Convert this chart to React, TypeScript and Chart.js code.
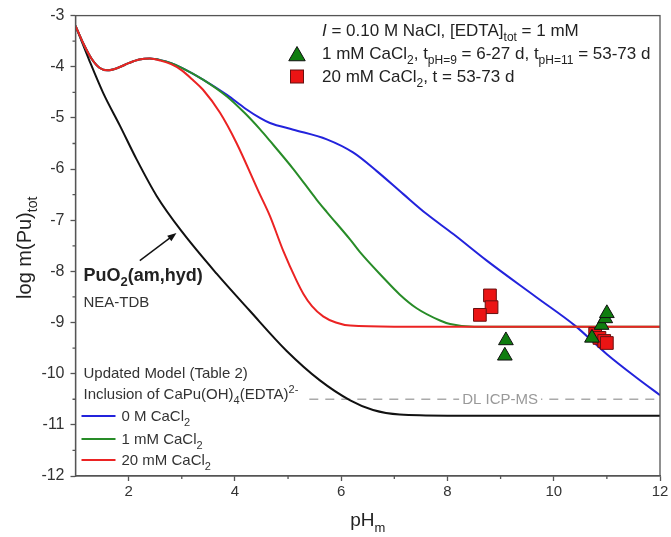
import React, { useEffect, useRef } from 'react';
import { Chart, registerables } from 'chart.js';
Chart.register(...registerables);

// PuO2(am,hyd) solubility, NEA-TDB
const ntdbPH = [1.0, 1.25, 1.52, 1.84, 2.15, 2.53, 3.0, 3.66, 4.28, 4.97, 5.6, 6.17, 6.6, 7.1, 8.0, 12.0];
const ntdbLog = [-3.2, -3.85, -4.51, -5.16, -5.81, -6.53, -7.22, -8.05, -8.77, -9.55, -10.13, -10.52, -10.71, -10.8, -10.82, -10.82];

// Updated model, 0 M CaCl2
const blueRaw: [number, number][] = [
  [1.0, -3.2], [1.15, -3.55], [1.3, -3.84], [1.45, -4.02], [1.6, -4.07], [1.8, -4.02], [2.0, -3.93], [2.2, -3.86],
  [2.4, -3.84], [2.6, -3.87], [2.8, -3.93], [3.0, -4.02], [3.4, -4.25], [3.85, -4.55], [4.2, -4.82], [4.47, -5.0],
  [4.66, -5.1], [5.1, -5.23], [5.73, -5.42], [6.23, -5.68], [6.67, -6.04], [7.17, -6.49], [7.61, -6.88], [8.11, -7.27],
  [8.74, -7.79], [9.68, -8.51], [10.4, -9.06], [11.0, -9.62], [11.56, -10.08], [12.0, -10.42],
];
// Updated model, 1 mM CaCl2
const greenRaw: [number, number][] = [
  [1.0, -3.2], [1.15, -3.55], [1.3, -3.84], [1.45, -4.02], [1.6, -4.07], [1.8, -4.02], [2.0, -3.93], [2.2, -3.86],
  [2.4, -3.84], [2.6, -3.87], [2.8, -3.93], [3.0, -4.02], [3.4, -4.25], [3.85, -4.58], [4.2, -4.92], [4.47, -5.22],
  [4.66, -5.45], [5.1, -6.0], [5.54, -6.6], [5.73, -6.84], [6.17, -7.38], [6.35, -7.62], [6.79, -8.12], [7.1, -8.45],
  [7.42, -8.72], [7.86, -8.96], [8.05, -9.03], [8.5, -9.08], [12.0, -9.08],
];
// Updated model, 20 mM CaCl2
const redRaw: [number, number][] = [
  [1.0, -3.2], [1.15, -3.55], [1.3, -3.84], [1.45, -4.02], [1.6, -4.07], [1.8, -4.02], [2.0, -3.93], [2.2, -3.86],
  [2.4, -3.84], [2.6, -3.88], [2.8, -3.95], [3.0, -4.07], [3.2, -4.25], [3.4, -4.45], [3.72, -4.9], [4.03, -5.49],
  [4.45, -6.45], [4.66, -6.92], [4.91, -7.6], [5.16, -8.18], [5.29, -8.44], [5.45, -8.68], [5.66, -8.88], [5.9, -9.0],
  [6.17, -9.06], [7.0, -9.08], [12.0, -9.08],
];

// Experimental data
const triPH = [9.1, 9.08, 10.72, 10.9, 10.97, 11.0];
const triLog = [-9.35, -9.65, -9.3, -9.05, -8.92, -8.82];
const sqPH = [8.8, 8.83, 8.61, 10.78, 10.86, 10.95, 11.0];
const sqLog = [-8.47, -8.7, -8.85, -9.22, -9.3, -9.36, -9.4];

// ICP-MS detection limit
const dlPH = [5.4, 12.0];
const dlLog = [-10.5, -10.5];

const xTicksMajor = [2, 4, 6, 8, 10, 12];

const FONT = '"Liberation Sans", Arial, Helvetica, sans-serif';

type Seg = { t: string; sub?: boolean; sup?: boolean; b?: boolean; i?: boolean };

function rich(ctx: CanvasRenderingContext2D, x: number, y: number, segs: Seg[], size: number, color: string, align: 'left' | 'center' = 'left') {
  const fontFor = (s: Seg) =>
    `${s.i ? 'italic ' : ''}${s.b ? 'bold ' : ''}${s.sub || s.sup ? Math.round(size * 0.7) : size}px ${FONT}`;
  let total = 0;
  for (const s of segs) {
    ctx.font = fontFor(s);
    total += ctx.measureText(s.t).width;
  }
  let cx = align === 'center' ? x - total / 2 : x;
  ctx.fillStyle = color;
  ctx.textBaseline = 'alphabetic';
  ctx.textAlign = 'left';
  for (const s of segs) {
    ctx.font = fontFor(s);
    const dy = s.sub ? size * 0.3 : s.sup ? -size * 0.4 : 0;
    ctx.fillText(s.t, cx, y + dy);
    cx += ctx.measureText(s.t).width;
  }
  return total;
}

const pts = (xs: number[], ys: number[]) => xs.map((x, i) => ({ x, y: ys[i] }));
const pairs = (arr: [number, number][]) => arr.map(([x, y]) => ({ x, y }));

const BLUE = 'rgb(35,35,220)';
const GREEN = 'rgb(40,140,40)';
const RED = 'rgb(235,35,35)';

function drawTri(ctx: CanvasRenderingContext2D, x: number, y: number, r: number) {
  ctx.beginPath();
  ctx.moveTo(x, y - r);
  ctx.lineTo(x + r * 0.866, y + r * 0.5);
  ctx.lineTo(x - r * 0.866, y + r * 0.5);
  ctx.closePath();
  ctx.fillStyle = 'rgb(15,125,15)';
  ctx.fill();
  ctx.strokeStyle = '#111';
  ctx.lineWidth = 1;
  ctx.stroke();
}

const overlay = {
  id: 'overlay',
  afterDraw(chart: any) {
    const ctx: CanvasRenderingContext2D = chart.ctx;
    const { left, right, top, bottom } = chart.chartArea;
    const xs = chart.scales.x;
    const ys = chart.scales.y;
    ctx.save();
    // frame
    ctx.strokeStyle = '#555';
    ctx.lineWidth = 1.3;
    ctx.strokeRect(left, top, right - left, bottom - top);
    // minor ticks
    ctx.beginPath();
    for (let v = 3; v <= 11; v += 2) {
      const p = xs.getPixelForValue(v);
      ctx.moveTo(p, bottom);
      ctx.lineTo(p, bottom + 3);
    }
    for (let v = -11.5; v <= -3.5; v += 1) {
      const p = ys.getPixelForValue(v);
      ctx.moveTo(left, p);
      ctx.lineTo(left - 3, p);
    }
    ctx.stroke();

    // DL label
    const dlx = xs.getPixelForValue(8.99);
    const dly = ys.getPixelForValue(-10.5);
    ctx.font = `15px ${FONT}`;
    const w = ctx.measureText('DL ICP-MS').width;
    ctx.fillStyle = '#fff';
    ctx.fillRect(dlx - w / 2 - 3, dly - 8, w + 6, 16);
    rich(ctx, dlx, dly + 5, [{ t: 'DL ICP-MS' }], 15, '#999', 'center');

    // arrow
    const ax0 = xs.getPixelForValue(2.21), ay0 = ys.getPixelForValue(-7.79);
    const ax1 = xs.getPixelForValue(2.9), ay1 = ys.getPixelForValue(-7.25);
    const ang = Math.atan2(ay1 - ay0, ax1 - ax0);
    ctx.strokeStyle = '#111';
    ctx.lineWidth = 1.4;
    ctx.beginPath();
    ctx.moveTo(ax0, ay0);
    ctx.lineTo(ax1 - 6 * Math.cos(ang), ay1 - 6 * Math.sin(ang));
    ctx.stroke();
    ctx.beginPath();
    ctx.moveTo(ax1, ay1);
    ctx.lineTo(ax1 - 9 * Math.cos(ang) + 3.5 * Math.sin(ang), ay1 - 9 * Math.sin(ang) - 3.5 * Math.cos(ang));
    ctx.lineTo(ax1 - 9 * Math.cos(ang) - 3.5 * Math.sin(ang), ay1 - 9 * Math.sin(ang) + 3.5 * Math.cos(ang));
    ctx.closePath();
    ctx.fillStyle = '#111';
    ctx.fill();

    // PuO2 annotation
    rich(ctx, left + 8, 281, [{ t: 'PuO', b: true }, { t: '2', b: true, sub: true }, { t: '(am,hyd)', b: true }], 18, '#222');
    rich(ctx, left + 8, 307, [{ t: 'NEA-TDB' }], 15, '#333');

    // top legend
    const lx = 322;
    rich(ctx, lx, 36, [{ t: 'I', i: true }, { t: ' = 0.10 M NaCl, [EDTA]' }, { t: 'tot', sub: true }, { t: ' = 1 mM' }], 17, '#222');
    drawTri(ctx, 297, 56, 9.5);
    rich(ctx, lx, 59, [
      { t: '1 mM CaCl' }, { t: '2', sub: true }, { t: ', t' }, { t: 'pH=9', sub: true },
      { t: ' = 6-27 d, t' }, { t: 'pH=11', sub: true }, { t: ' = 53-73 d' },
    ], 17, '#222');
    ctx.fillStyle = 'rgb(235,20,20)';
    ctx.fillRect(290.5, 70, 13, 13);
    ctx.strokeStyle = '#611';
    ctx.lineWidth = 1;
    ctx.strokeRect(290.5, 70, 13, 13);
    rich(ctx, lx, 82, [{ t: '20 mM CaCl' }, { t: '2', sub: true }, { t: ', t = 53-73 d' }], 17, '#222');

    // bottom-left legend
    rich(ctx, left + 8, 378, [{ t: 'Updated Model (Table 2)' }], 15, '#333');
    rich(ctx, left + 8, 399, [{ t: 'Inclusion of CaPu(OH)' }, { t: '4', sub: true }, { t: '(EDTA)' }, { t: '2-', sup: true }], 15, '#333');
    const rows: [string, string, number][] = [
      [BLUE, '0 M CaCl', 416],
      [GREEN, '1 mM CaCl', 439],
      [RED, '20 mM CaCl', 460],
    ];
    for (const [c, t, y] of rows) {
      ctx.strokeStyle = c;
      ctx.lineWidth = 2;
      ctx.beginPath();
      ctx.moveTo(left + 6, y);
      ctx.lineTo(left + 40, y);
      ctx.stroke();
      rich(ctx, left + 46, y + 5, [{ t }, { t: '2', sub: true }], 15, '#333');
    }

    // axis titles
    ctx.save();
    ctx.translate(24, (top + bottom) / 2 + 2);
    ctx.rotate(-Math.PI / 2);
    rich(ctx, 0, 7, [{ t: 'log m(Pu)' }, { t: 'tot', sub: true }], 20, '#222', 'center');
    ctx.restore();
    rich(ctx, (left + right) / 2, 526, [{ t: 'pH' }, { t: 'm', sub: true }], 19, '#222', 'center');
    ctx.restore();
  },
};

export default function App() {
  const ref = useRef<HTMLCanvasElement | null>(null);
  useEffect(() => {
    document.body.style.margin = '0';
    document.body.style.overflow = 'hidden';
    const canvas = ref.current!;
    const lineDs = (label: string, data: any[], color: string, width = 2) => ({
      type: 'line' as const,
      label,
      data,
      borderColor: color,
      backgroundColor: color,
      borderWidth: width,
      pointRadius: 0,
      showLine: true,
      fill: false,
      cubicInterpolationMode: 'monotone' as const,
    });
    const chart = new Chart(canvas, {
      type: 'scatter',
      data: {
        datasets: [
          {
            label: '1 mM CaCl2',
            data: pts(triPH, triLog),
            pointStyle: 'triangle',
            pointRadius: 8.5,
            backgroundColor: 'rgb(15,125,15)',
            borderColor: '#111',
            borderWidth: 1,
            showLine: false,
          },
          {
            label: '20 mM CaCl2',
            data: pts(sqPH, sqLog),
            pointStyle: 'rect',
            pointRadius: 9,
            backgroundColor: 'rgb(235,20,20)',
            borderColor: '#611',
            borderWidth: 1,
            showLine: false,
          },
          lineDs('20 mM', pairs(redRaw), RED),
          lineDs('1 mM', pairs(greenRaw), GREEN),
          lineDs('0 M', pairs(blueRaw), BLUE),
          lineDs('NEA-TDB', pts(ntdbPH, ntdbLog), '#111'),
          { ...lineDs('DL', pts(dlPH, dlLog), '#aaa', 1.6), borderDash: [9, 7], cubicInterpolationMode: 'default' as const },
        ] as any,
      },
      options: {
        animation: false,
        responsive: false,
        maintainAspectRatio: false,
        layout: { padding: { left: 0, top: 14, right: 11, bottom: 0 } },
        plugins: { legend: { display: false }, tooltip: { enabled: false } },
        scales: {
          x: {
            type: 'linear',
            min: 1,
            max: 12,
            afterFit: (s: any) => { s.height = 61; },
            afterBuildTicks: (s: any) => { s.ticks = xTicksMajor.map((v) => ({ value: v })); },
            ticks: { font: { family: FONT, size: 15 }, color: '#333', padding: 2, maxRotation: 0 },
            grid: { drawOnChartArea: false, tickLength: 5, tickColor: '#555', tickWidth: 1.3 },
            border: { display: true, color: '#555', width: 1.3 },
          },
          y: {
            type: 'linear',
            min: -12,
            max: -3,
            afterFit: (s: any) => { s.width = 75.5; },
            ticks: { stepSize: 1, font: { family: FONT, size: 16 }, color: '#333', padding: 6 },
            grid: { drawOnChartArea: false, tickLength: 5, tickColor: '#555', tickWidth: 1.3 },
            border: { display: true, color: '#555', width: 1.3 },
          },
        },
      },
      plugins: [overlay],
    });
    return () => chart.destroy();
  }, []);
  return (
    <div style={{ width: 671, height: 537, background: '#fff' }}>
      <canvas ref={ref} width={671} height={537} style={{ width: 671, height: 537, display: 'block' }} />
    </div>
  );
}
